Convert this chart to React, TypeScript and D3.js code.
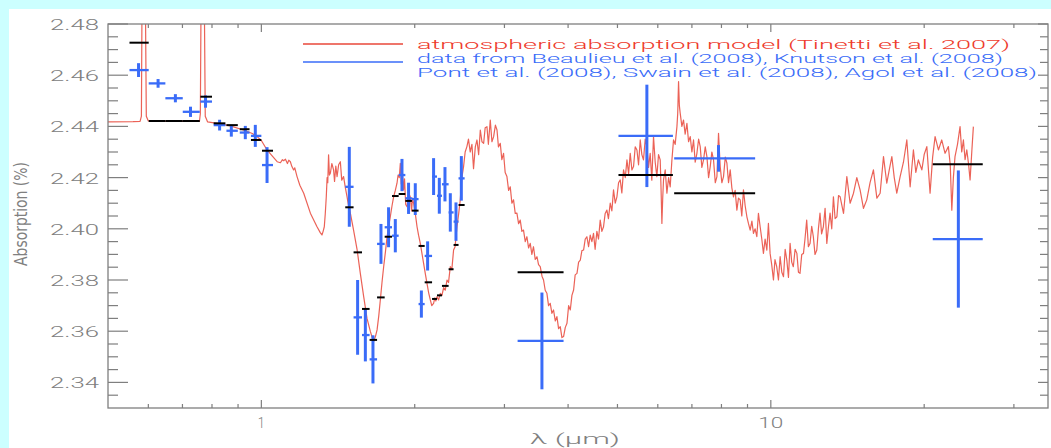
import React from 'react';
import * as d3 from 'd3';

// ---------- DATA ----------
// Model spectrum (Tinetti et al. 2007): [wavelength (µm), absorption (%)]
const modelCurve: [number, number][] = [
  [0.500, 2.4418], [0.560, 2.4419], [0.578, 2.4420], [0.5815, 2.4440], [0.5835, 2.5000], [0.5875, 2.5200],
  [0.5915, 2.5000], [0.5945, 2.4440], [0.600, 2.4421], [0.680, 2.4420], [0.756, 2.4420], [0.759, 2.4450],
  [0.762, 2.5000], [0.767, 2.5200], [0.772, 2.5000], [0.776, 2.4440], [0.784, 2.4418], [0.819, 2.4412],
  [0.869, 2.4402], [0.922, 2.4386], [0.960, 2.4372], [0.981, 2.4360], [1.000, 2.4345], [1.026, 2.4308],
  [1.050, 2.4285], [1.074, 2.4262], [1.090, 2.4258], [1.100, 2.4270], [1.106, 2.4266], [1.115, 2.4272],
  [1.125, 2.4255], [1.132, 2.4268], [1.140, 2.4262], [1.148, 2.4243], [1.157, 2.4230], [1.163, 2.4238],
  [1.175, 2.4204], [1.190, 2.4170], [1.211, 2.4139], [1.248, 2.4061], [1.286, 2.4008], [1.305, 2.3985],
  [1.315, 2.3976], [1.322, 2.3990], [1.329, 2.4008], [1.335, 2.4060], [1.341, 2.4125], [1.346, 2.4200],
  [1.350, 2.4180], [1.355, 2.4289], [1.360, 2.4210], [1.366, 2.4217], [1.375, 2.4255], [1.386, 2.4230],
  [1.392, 2.4185], [1.400, 2.4245], [1.408, 2.4204], [1.418, 2.4250], [1.429, 2.4262], [1.438, 2.4190],
  [1.450, 2.4204], [1.462, 2.4160], [1.473, 2.4125], [1.484, 2.4087], [1.495, 2.4061], [1.517, 2.3995],
  [1.541, 2.3920], [1.564, 2.3826], [1.588, 2.3735], [1.612, 2.3650], [1.636, 2.3600], [1.650, 2.3575],
  [1.661, 2.3560], [1.675, 2.3580], [1.687, 2.3605], [1.700, 2.3660], [1.712, 2.3722], [1.725, 2.3790],
  [1.738, 2.3852], [1.752, 2.3910], [1.765, 2.3969], [1.778, 2.4010], [1.791, 2.4047], [1.805, 2.4090],
  [1.818, 2.4125], [1.832, 2.4150], [1.846, 2.4178], [1.855, 2.4210], [1.865, 2.4200], [1.874, 2.4256],
  [1.882, 2.4175], [1.890, 2.4230], [1.902, 2.4152], [1.910, 2.4195], [1.920, 2.4095], [1.932, 2.4086],
  [1.945, 2.4140], [1.960, 2.4125], [1.972, 2.4070], [1.980, 2.4120], [1.990, 2.4100], [2.005, 2.4060],
  [2.021, 2.4008], [2.035, 2.3975], [2.051, 2.3943], [2.066, 2.3905], [2.082, 2.3865], [2.098, 2.3825],
  [2.114, 2.3787], [2.130, 2.3750], [2.146, 2.3722], [2.160, 2.3700], [2.178, 2.3709], [2.190, 2.3730],
  [2.200, 2.3718], [2.212, 2.3735], [2.228, 2.3722], [2.245, 2.3748], [2.262, 2.3740], [2.279, 2.3770],
  [2.296, 2.3760], [2.314, 2.3800], [2.330, 2.3790], [2.349, 2.3852], [2.365, 2.3840], [2.384, 2.3917],
  [2.400, 2.3930], [2.421, 2.4008], [2.440, 2.4060], [2.457, 2.4113], [2.475, 2.4200], [2.494, 2.4243],
  [2.512, 2.4300], [2.532, 2.4321], [2.550, 2.4350], [2.570, 2.4300], [2.590, 2.4330], [2.609, 2.4235],
  [2.630, 2.4320], [2.650, 2.4347], [2.670, 2.4290], [2.690, 2.4386], [2.710, 2.4340], [2.731, 2.4334],
  [2.750, 2.4395], [2.772, 2.4399], [2.790, 2.4330], [2.814, 2.4425], [2.835, 2.4340], [2.857, 2.4360],
  [2.880, 2.4405], [2.901, 2.4386], [2.920, 2.4320], [2.944, 2.4334], [2.965, 2.4270], [2.988, 2.4295],
  [3.010, 2.4220], [3.034, 2.4204], [3.057, 2.4150], [3.080, 2.4164], [3.103, 2.4100], [3.126, 2.4113],
  [3.150, 2.4060], [3.174, 2.4061], [3.198, 2.4020], [3.222, 2.4034], [3.246, 2.3990], [3.270, 2.3995],
  [3.296, 2.3950], [3.321, 2.3969], [3.346, 2.3925], [3.371, 2.3943], [3.396, 2.3900], [3.421, 2.3930],
  [3.448, 2.3880], [3.475, 2.3891], [3.500, 2.3860], [3.527, 2.3852], [3.555, 2.3815], [3.580, 2.3800],
  [3.607, 2.3760], [3.635, 2.3748], [3.662, 2.3700], [3.690, 2.3709], [3.718, 2.3670], [3.745, 2.3683],
  [3.775, 2.3640], [3.803, 2.3657], [3.832, 2.3610], [3.861, 2.3618], [3.890, 2.3575], [3.919, 2.3579],
  [3.950, 2.3615], [3.980, 2.3631], [4.010, 2.3700], [4.040, 2.3683], [4.070, 2.3740], [4.101, 2.3761],
  [4.130, 2.3820], [4.164, 2.3826], [4.195, 2.3870], [4.227, 2.3878], [4.258, 2.3915], [4.290, 2.3917],
  [4.322, 2.3960], [4.355, 2.3969], [4.388, 2.3930], [4.421, 2.3975], [4.454, 2.3950], [4.487, 2.3982],
  [4.520, 2.3920], [4.556, 2.3990], [4.590, 2.3960], [4.625, 2.4034], [4.660, 2.3990], [4.695, 2.4008],
  [4.730, 2.4060], [4.767, 2.4073], [4.800, 2.4040], [4.839, 2.4100], [4.875, 2.4070], [4.912, 2.4152],
  [4.950, 2.4100], [4.988, 2.4125], [5.025, 2.4180], [5.063, 2.4191], [5.100, 2.4140], [5.139, 2.4230],
  [5.180, 2.4200], [5.219, 2.4269], [5.258, 2.4215], [5.297, 2.4295], [5.337, 2.4230], [5.377, 2.4243],
  [5.418, 2.4320], [5.460, 2.4308], [5.500, 2.4250], [5.542, 2.4347], [5.583, 2.4290], [5.624, 2.4269],
  [5.668, 2.4350], [5.711, 2.4321], [5.755, 2.4240], [5.797, 2.4295], [5.840, 2.4190], [5.885, 2.4360],
  [5.930, 2.4260], [5.975, 2.4204], [6.020, 2.4290], [6.066, 2.4269], [6.090, 2.4150], [6.112, 2.4021],
  [6.135, 2.4120], [6.157, 2.4191], [6.205, 2.4230], [6.252, 2.4139], [6.300, 2.4200], [6.346, 2.4164],
  [6.395, 2.4269], [6.442, 2.4347], [6.490, 2.4330], [6.542, 2.4399], [6.565, 2.4450], [6.590, 2.4575],
  [6.615, 2.4480], [6.640, 2.4451], [6.690, 2.4400], [6.740, 2.4425], [6.790, 2.4370], [6.844, 2.4412],
  [6.895, 2.4340], [6.947, 2.4360], [7.000, 2.4300], [7.052, 2.4347], [7.105, 2.4260], [7.160, 2.4295],
  [7.215, 2.4350], [7.268, 2.4321], [7.322, 2.4240], [7.378, 2.4269], [7.435, 2.4320], [7.491, 2.4282],
  [7.548, 2.4200], [7.604, 2.4243], [7.660, 2.4300], [7.719, 2.4269], [7.780, 2.4180], [7.838, 2.4204],
  [7.895, 2.4373], [7.955, 2.4243], [8.015, 2.4180], [8.075, 2.4204], [8.140, 2.4280], [8.200, 2.4256],
  [8.260, 2.4180], [8.323, 2.4230], [8.385, 2.4160], [8.447, 2.4125], [8.510, 2.4150], [8.578, 2.4073],
  [8.640, 2.4120], [8.707, 2.4113], [8.770, 2.4050], [8.837, 2.4152], [8.905, 2.4090], [8.975, 2.4047],
  [9.040, 2.4020], [9.109, 2.3995], [9.180, 2.4030], [9.246, 2.3982], [9.315, 2.4000], [9.387, 2.3969],
  [9.455, 2.4060], [9.529, 2.4008], [9.600, 2.3960], [9.672, 2.3904], [9.745, 2.3960], [9.822, 2.3917],
  [9.892, 2.4021], [9.968, 2.3904], [10.04, 2.3860], [10.12, 2.3800], [10.19, 2.3880], [10.27, 2.3852],
  [10.35, 2.3800], [10.43, 2.3891], [10.51, 2.3830], [10.59, 2.3813], [10.67, 2.3920], [10.75, 2.3878],
  [10.83, 2.3810], [10.91, 2.3943], [10.99, 2.3870], [11.07, 2.3852], [11.16, 2.3920], [11.25, 2.3904],
  [11.33, 2.3830], [11.41, 2.3826], [11.50, 2.3900], [11.59, 2.3904], [11.67, 2.3960], [11.76, 2.4034],
  [11.85, 2.3930], [11.94, 2.3943], [12.03, 2.4010], [12.12, 2.3969], [12.21, 2.3900], [12.31, 2.3917],
  [12.40, 2.4000], [12.49, 2.4061], [12.58, 2.3980], [12.68, 2.4008], [12.78, 2.4080], [12.88, 2.3943],
  [12.98, 2.4010], [13.07, 2.4061], [13.17, 2.4000], [13.27, 2.4125], [13.37, 2.4040], [13.48, 2.4047],
  [13.58, 2.4130], [13.68, 2.4125], [13.89, 2.4060], [14.10, 2.4204], [14.31, 2.4100], [14.53, 2.4139],
  [14.75, 2.4200], [14.97, 2.4152], [15.20, 2.4080], [15.43, 2.4113], [15.66, 2.4180], [15.90, 2.4230],
  [16.15, 2.4120], [16.39, 2.4139], [16.64, 2.4282], [16.89, 2.4178], [17.08, 2.4230], [17.28, 2.4282],
  [17.47, 2.4200], [17.67, 2.4139], [17.94, 2.4204], [18.21, 2.4260], [18.49, 2.4347], [18.77, 2.4164],
  [19.05, 2.4308], [19.26, 2.4220], [19.48, 2.4269], [19.79, 2.4230], [20.00, 2.4290], [20.24, 2.4321],
  [20.54, 2.4139], [20.78, 2.4280], [21.01, 2.4360], [21.33, 2.4308], [21.65, 2.4347], [21.98, 2.4295],
  [22.31, 2.4321], [22.50, 2.4250], [22.66, 2.4073], [22.82, 2.4200], [22.99, 2.4282], [23.25, 2.4330],
  [23.52, 2.4399], [23.70, 2.4300], [23.88, 2.4347], [24.06, 2.4270], [24.25, 2.4308], [24.45, 2.4250],
  [24.61, 2.4191], [24.80, 2.4300], [24.98, 2.4399],
];

// Observed bins
const binLow = [0.551, 0.601, 0.648, 0.701, 0.759, 0.806, 0.854, 0.907, 0.954, 1.003, 1.461, 1.517, 1.576, 1.631, 1.687, 1.746,
  1.805, 1.860, 1.917, 1.975, 2.035, 2.092, 2.163, 2.212, 2.262, 2.331, 2.384, 2.438, 3.184, 5.023, 6.461, 20.79];
const binHigh = [0.601, 0.648, 0.701, 0.757, 0.800, 0.850, 0.899, 0.948, 1.000, 1.054, 1.517, 1.576, 1.631, 1.687, 1.746, 1.805,
  1.860, 1.917, 1.975, 2.035, 2.092, 2.163, 2.212, 2.262, 2.331, 2.384, 2.438, 2.506, 3.919, 6.424, 9.316, 26.06];
const dataWavelength = [0.574, 0.627, 0.678, 0.726, 0.777, 0.828, 0.873, 0.930, 0.973, 1.026, 1.488, 1.545, 1.600, 1.656, 1.717, 1.777,
  1.832, 1.888, 1.945, 2.005, 2.061, 2.120, 2.178, 2.235, 2.293, 2.349, 2.410, 2.469, 3.554, 5.711, 7.895, 23.34];
const dataAbsorption = [2.4620, 2.4568, 2.4510, 2.4457, 2.4497, 2.4405, 2.4383, 2.4376, 2.4363, 2.4249, 2.4164, 2.3654, 2.3585, 2.3490,
  2.3941, 2.4006, 2.3973, 2.4210, 2.4119, 2.4116, 2.3706, 2.3894, 2.4204, 2.4129, 2.4174, 2.4064, 2.4028, 2.4197, 2.3562, 2.4363, 2.4275, 2.3960];
const dataError = [0.0027, 0.0017, 0.0016, 0.0020, 0.0024, 0.0021, 0.0023, 0.0026, 0.0043, 0.0070, 0.0156, 0.0146, 0.0103, 0.0094,
  0.0078, 0.0078, 0.0065, 0.0063, 0.0061, 0.0062, 0.0053, 0.0057, 0.0072, 0.0070, 0.0067, 0.0075, 0.0075, 0.0087, 0.0189, 0.0200, 0.0052, 0.0268];
// Model averaged over each bin
const binModel = [2.4727, 2.4421, 2.4421, 2.4421, 2.4516, 2.4412, 2.4405, 2.4389, 2.4347, 2.4305, 2.4084, 2.3908, 2.3687, 2.3566,
  2.3732, 2.3969, 2.4128, 2.4136, 2.4109, 2.4071, 2.3933, 2.3791, 2.3726, 2.3740, 2.3777, 2.3842, 2.3937, 2.4093, 2.3830, 2.4210, 2.4139, 2.4252];

const xMajorTicks = [1, 10];
const xMajorLabels = ['1', '10'];
const xMinorTicks = [0.6, 0.7, 0.8, 0.9, 2, 3, 4, 5, 6, 7, 8, 9, 20, 30];
const yMajorTicks = [2.34, 2.36, 2.38, 2.40, 2.42, 2.44, 2.46, 2.48];
const yMajorLabels = ['2.34', '2.36', '2.38', '2.40', '2.42', '2.44', '2.46', '2.48'];
const yMinorTicks = [2.335, 2.345, 2.35, 2.355, 2.365, 2.37, 2.375, 2.385, 2.39, 2.395, 2.405, 2.41, 2.415, 2.425, 2.43, 2.435,
  2.445, 2.45, 2.455, 2.465, 2.47, 2.475];

const legendLines = [
  { text: 'atmospheric absorption model (Tinetti et al. 2007)', color: '#ee3b2c' },
  { text: 'data from Beaulieu et al. (2008), Knutson et al. (2008)', color: '#3a6cf8' },
  { text: 'Pont et al. (2008), Swain et al. (2008), Agol et al. (2008)', color: '#3a6cf8' },
];

// ---------- LAYOUT ----------
const W = 1051, H = 448;
const L = 108, R = 1048, T = 24, B = 408;
const AX = '#7f7f7f';
const RED = '#e8473a';
const BLUE = '#3a6cf8';
const FONT = 'Roboto, "DejaVu Sans", sans-serif';

export default function App() {
  const x = d3.scaleLog().domain([0.5, 35]).range([L, R]);
  const y = d3.scaleLinear().domain([2.33, 2.48]).range([B, T]);
  const line = d3.line<[number, number]>().x(d => x(d[0])).y(d => y(d[1]));

  const legendTextX = 417;
  const legendY = [44, 58.5, 72.5];
  const legendLen = [593, 586, 620];

  return (
    <div style={{ position: 'absolute', left: 0, top: 0, width: W, height: H }}>
      <svg width={W} height={H} style={{ display: 'block' }}>
        <defs>
          <clipPath id="plotClip">
            <rect x={L} y={T} width={R - L} height={B - T} />
          </clipPath>
        </defs>
        <rect x={0} y={0} width={W} height={H} fill="#ccffff" />
        <rect x={9} y={9} width={W - 9} height={H - 9} fill="#ffffff" />

        {/* model curve */}
        <path d={line(modelCurve) || ''} fill="none" stroke={RED} strokeWidth={1.2} strokeOpacity={0.85}
          strokeLinejoin="round" clipPath="url(#plotClip)" />

        {/* observed data */}
        <g stroke={BLUE} fill="none">
          {dataWavelength.map((w, i) => (
            <g key={'d' + i}>
              <line x1={x(binLow[i])} x2={x(binHigh[i])} y1={y(dataAbsorption[i])} y2={y(dataAbsorption[i])} strokeWidth={2.3} />
              <line x1={x(w)} x2={x(w)} y1={y(dataAbsorption[i] - dataError[i])} y2={y(dataAbsorption[i] + dataError[i])} strokeWidth={3} />
            </g>
          ))}
        </g>

        {/* binned model */}
        <g stroke="#000" strokeWidth={2}>
          {binModel.map((v, i) => (
            <line key={'b' + i} x1={x(binLow[i])} x2={x(binHigh[i])} y1={y(v)} y2={y(v)} />
          ))}
        </g>

        {/* axes frame */}
        <rect x={L} y={T} width={R - L} height={B - T} fill="none" stroke={AX} strokeWidth={1.3} />
        <g stroke={AX} strokeWidth={1.2}>
          {yMajorTicks.map(v => (
            <g key={'ym' + v}>
              <line x1={L} x2={L + 20} y1={y(v)} y2={y(v)} />
              <line x1={R} x2={R - 10} y1={y(v)} y2={y(v)} />
            </g>
          ))}
          {yMinorTicks.map(v => (
            <g key={'yn' + v}>
              <line x1={L} x2={L + 10} y1={y(v)} y2={y(v)} />
              <line x1={R} x2={R - 8} y1={y(v)} y2={y(v)} />
            </g>
          ))}
          {xMajorTicks.map(v => (
            <g key={'xm' + v}>
              <line x1={x(v)} x2={x(v)} y1={B} y2={B - 8} />
              <line x1={x(v)} x2={x(v)} y1={T} y2={T + 8} />
            </g>
          ))}
          {xMinorTicks.map(v => (
            <g key={'xn' + v}>
              <line x1={x(v)} x2={x(v)} y1={B} y2={B - 4} />
              <line x1={x(v)} x2={x(v)} y1={T} y2={T + 4} />
            </g>
          ))}
        </g>

        {/* tick labels */}
        <g fill="#808080" fontFamily={FONT} fontWeight={300} fontSize={14}>
          {yMajorTicks.map((v, i) => (
            <text key={'yl' + v} x={99} y={y(v) + 1} textAnchor="end" dominantBaseline="central"
              textLength={49} lengthAdjust="spacingAndGlyphs">{yMajorLabels[i]}</text>
          ))}
          {xMajorTicks.map((v, i) => (
            <text key={'xl' + v} x={x(v)} y={423} textAnchor="middle" dominantBaseline="central"
              textLength={xMajorLabels[i].length === 1 ? 7 : 25} lengthAdjust="spacingAndGlyphs">{xMajorLabels[i]}</text>
          ))}
        </g>

        {/* axis titles */}
        <text x={575} y={439} textAnchor="middle" dominantBaseline="central" fill="#808080" fontFamily={FONT}
          fontWeight={300} fontSize={15} textLength={90} lengthAdjust="spacingAndGlyphs">λ (μm)</text>
        <text transform="translate(21,214) rotate(-90)" textAnchor="middle" dominantBaseline="central" fill="#808080"
          fontFamily="'DejaVu Sans Condensed', 'Liberation Sans Narrow', sans-serif" fontSize={17}
          textLength={104} lengthAdjust="spacingAndGlyphs">Absorption (%)</text>

        {/* legend */}
        <line x1={303} x2={403} y1={44} y2={44} stroke={RED} strokeWidth={1.3} />
        <line x1={303} x2={403} y1={62} y2={62} stroke={BLUE} strokeWidth={1.3} />
        {legendLines.map((l, i) => (
          <text key={'lg' + i} x={legendTextX} y={legendY[i]} dominantBaseline="central" fill={l.color}
            fontFamily={FONT} fontWeight={300} fontSize={12.5} textLength={legendLen[i]}
            lengthAdjust="spacingAndGlyphs">{l.text}</text>
        ))}
      </svg>
    </div>
  );
}
